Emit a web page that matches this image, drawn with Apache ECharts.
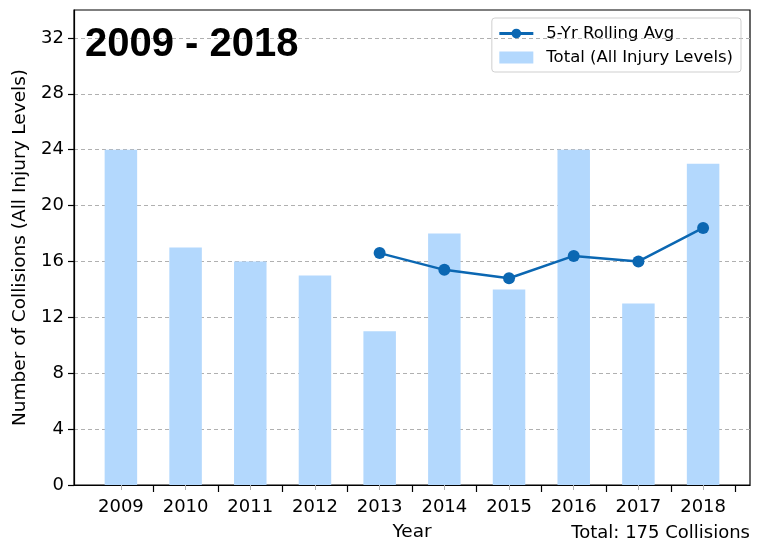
<!DOCTYPE html>
<html>
<head>
<meta charset="utf-8">
<script src="https://cdn.jsdelivr.net/npm/echarts@6/dist/echarts.min.js"></script>
<style>
  html, body { margin: 0; padding: 0; background: #fff; }
  #chart { width: 765px; height: 541px; }
</style>
</head>
<body>
<div id="chart"></div>
<script>
// ---- data ----
const years = ['2009', '2010', '2011', '2012', '2013', '2014', '2015', '2016', '2017', '2018']
const totals = [24, 17, 16, 15, 11, 18, 14, 24, 13, 23]
const rollingAvg = [null, null, null, null, 16.6, 15.4, 14.8, 16.4, 16.0, 18.4]
const yTicks = [0, 4, 8, 12, 16, 20, 24, 28, 32]

const font = 'DejaVu Sans, sans-serif'
const centers = years.map((y, i) => i)
const bounds = years.map((y, i) => i + 0.5)

const chart = echarts.init(document.getElementById('chart'))

chart.setOption({
  animation: false,
  textStyle: { fontFamily: font },
  grid: {
    left: 74, right: 15, top: 10, bottom: 56,
    outerBoundsMode: 'none',
    containLabel: false,
    show: true, borderColor: '#000', borderWidth: 1.2, backgroundColor: 'transparent'
  },
  title: [
    { text: '2009 - 2018', left: 80, top: 20, textStyle: { fontFamily: 'Liberation Sans, Arial, sans-serif', fontWeight: 'bold', fontSize: 40, color: '#000' } },
    { text: 'Total: 175 Collisions', right: 10, top: 519, textStyle: { fontFamily: font, fontWeight: 'normal', fontSize: 18, color: '#000' } }
  ],
  legend: {
    orient: 'vertical',
    right: 24,
    top: 18,
    padding: [7, 8, 6, 6],
    itemGap: 7,
    itemWidth: 34,
    itemHeight: 12,
    borderColor: '#cfcfcf',
    borderWidth: 1,
    borderRadius: 3,
    textStyle: { fontFamily: font, fontSize: 16.5, color: '#000', padding: [0, 0, 0, 8] },
    data: [
      { name: '5-Yr Rolling Avg', lineStyle: { width: 3 } },
      { name: 'Total (All Injury Levels)', icon: 'rect' }
    ]
  },
  xAxis: [
    {
      type: 'value',
      min: -0.725,
      max: 9.725,
      position: 'bottom',
      name: 'Year',
      nameLocation: 'middle',
      nameGap: 38,
      nameTextStyle: { fontFamily: font, fontSize: 18.5, color: '#000' },
      axisLine: { onZero: false, lineStyle: { color: '#000', width: 1.2 } },
      axisTick: { customValues: bounds, length: 7, lineStyle: { color: '#000', width: 1.2 } },
      axisLabel: {
        customValues: centers,
        margin: 13,
        fontFamily: font,
        fontSize: 18,
        color: '#000',
        formatter: v => years[Math.round(v)]
      },
      splitLine: { show: false }
    },
    {
      type: 'value',
      min: -0.725,
      max: 9.725,
      position: 'bottom',
      axisLine: { show: false, onZero: false },
      axisTick: { customValues: centers, length: 5, lineStyle: { color: '#b0b0b0', width: 1 } },
      axisLabel: { show: false },
      splitLine: { show: false }
    }
  ],
  yAxis: {
    type: 'value',
    min: 0,
    max: 34,
    interval: 4,
    name: 'Number of Collisions (All Injury Levels)',
    nameLocation: 'middle',
    nameGap: 44,
    nameTextStyle: { fontFamily: font, fontSize: 18.5, color: '#000' },
    axisLine: { show: true, onZero: false, lineStyle: { color: '#000', width: 1.2 } },
    axisTick: { show: true, customValues: yTicks, length: 6, lineStyle: { color: '#000', width: 1.2 } },
    axisLabel: { customValues: yTicks, margin: 10, fontFamily: font, fontSize: 18, color: '#000' },
    splitLine: { show: true, lineStyle: { color: '#b0b0b0', type: [4, 3], width: 1 } }
  },
  series: [
    {
      name: 'Total (All Injury Levels)',
      type: 'bar',
      xAxisIndex: 0,
      barWidth: 32.5,
      itemStyle: { color: '#b3d8fd' },
      z: 1,
      data: totals.map((v, i) => [i, v])
    },
    {
      name: '5-Yr Rolling Avg',
      type: 'line',
      xAxisIndex: 0,
      symbol: 'circle',
      symbolSize: 12,
      lineStyle: { color: '#0b67b2', width: 2.5 },
      itemStyle: { color: '#0b67b2' },
      z: 3,
      data: rollingAvg.map((v, i) => [i, v]).filter(d => d[1] !== null)
    }
  ]
})
</script>
</body>
</html>
